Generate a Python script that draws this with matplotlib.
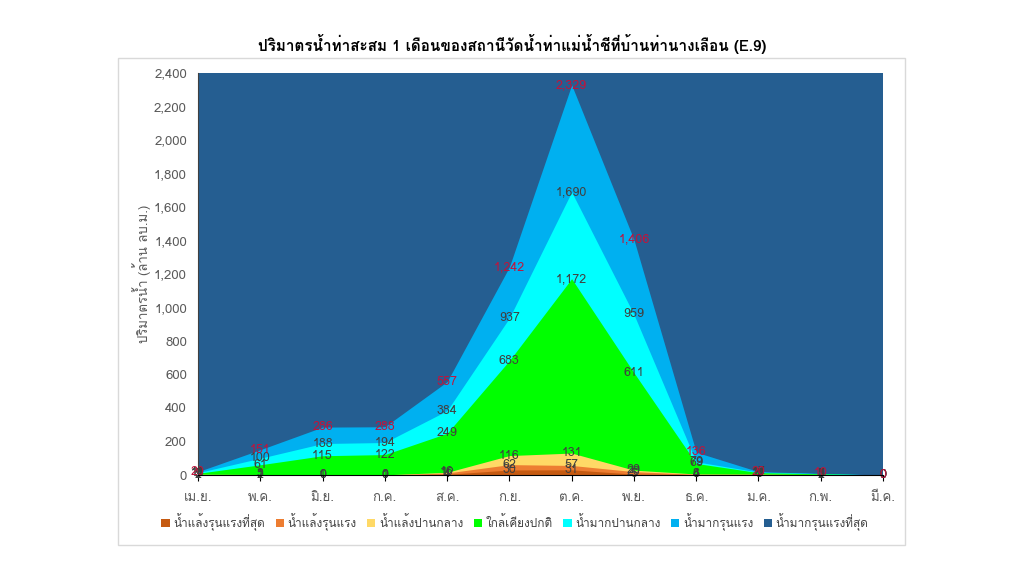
import matplotlib
matplotlib.use("Agg")
import matplotlib.pyplot as plt
from matplotlib import font_manager
from matplotlib.ft2font import FT2Font
from matplotlib.patches import Rectangle
from matplotlib.ticker import FuncFormatter
import numpy as np

months = ["เม.ย.", "พ.ค.", "มิ.ย.", "ก.ค.", "ส.ค.", "ก.ย.", "ต.ค.", "พ.ย.", "ธ.ค.", "ม.ค.", "ก.พ.", "มี.ค."]
series_names = ["น้ำแล้งรุนแรงที่สุด", "น้ำแล้งรุนแรง", "น้ำแล้งปานกลาง", "ใกล้เคียงปกติ",
                "น้ำมากปานกลาง", "น้ำมากรุนแรง", "น้ำมากรุนแรงที่สุด"]
dry_extreme = [2, 1, 0, 0, 4, 30, 31, 5, 3, 3, 1, 0]
dry_severe = [3, 2, 0, 0, 12, 62, 57, 20, 4, 4, 2, 0]
dry_moderate = [5, 3, 1, 1, 16, 116, 131, 29, 6, 5, 3, 0]
near_normal = [10, 61, 115, 122, 249, 683, 1172, 611, 69, 14, 7, 0]
wet_moderate = [14, 100, 188, 194, 384, 937, 1690, 959, 79, 17, 8, 0]
wet_severe = [20, 151, 286, 288, 557, 1242, 2329, 1406, 136, 20, 10, 0]
wet_extreme = [2400, 2400, 2400, 2400, 2400, 2400, 2400, 2400, 2400, 2400, 2400, 2400]
title = "ปริมาตรน้ำท่าสะสม 1 เดือนของสถานีวัดน้ำท่าแม่น้ำชีที่บ้านท่านางเลือน (E.9)"
ylabel = "ปริมาตรน้ำ (ล้าน ลบ.ม.)"

colors = ["#C55A11", "#ED7D31", "#FFD966", "#00FF00", "#00FFFF", "#00B0F0", "#255E91"]

# find a font with Thai glyphs
thai_font = None
for fe in font_manager.fontManager.ttflist:
    try:
        cm = FT2Font(fe.fname).get_charmap()
        if 0x0E19 in cm and 0x0E49 in cm:
            thai_font = fe.name
            break
    except Exception:
        continue
fams = ([thai_font] if thai_font else []) + ["DejaVu Sans"]
plt.rcParams["font.family"] = fams

fig = plt.figure(figsize=(10.24, 5.76), dpi=100)
fig.patches.append(Rectangle((118 / 1024, 1 - 545 / 576), (905 - 118) / 1024, (545 - 58) / 576,
                             transform=fig.transFigure, fill=False, edgecolor="#D9D9D9", lw=1))
ax = fig.add_axes([198 / 1024, 1 - 475 / 576, (883 - 198) / 1024, (475 - 73) / 576])

x = np.arange(len(months))
all_series = [dry_extreme, dry_severe, dry_moderate, near_normal, wet_moderate, wet_severe, wet_extreme]
for i in range(len(all_series) - 1, -1, -1):
    ax.fill_between(x, 0, all_series[i], color=colors[i], lw=0, label=series_names[i], zorder=2 + (6 - i))

for i, s in enumerate(all_series[:-1]):
    c = "#C0143C" if i == 5 else "#404040"
    for xi, v in zip(x, s):
        ax.text(xi, v, f"{v:,}", ha="center", va="center", fontsize=9, color=c, zorder=20)

ax.set_xlim(0, 11)
ax.set_ylim(0, 2400)
ax.set_yticks(np.arange(0, 2401, 200))
ax.yaxis.set_major_formatter(FuncFormatter(lambda v, p: f"{int(v):,}"))
ax.set_xticks(x)
ax.set_xticklabels(months)
ax.tick_params(axis="y", length=0, labelsize=9.5, colors="#595959", pad=8)
ax.tick_params(axis="x", length=4, direction="out", labelsize=9.5, labelcolor="#595959", pad=8)
for side in ["top", "right"]:
    ax.spines[side].set_visible(False)
ax.spines["left"].set_color("#404040")
ax.spines["bottom"].set_color("#000000")
ax.spines["left"].set_zorder(30)
ax.spines["bottom"].set_zorder(30)
ax.set_ylabel(ylabel, fontsize=9.5, color="#595959", labelpad=2)

fig.text(0.5, 1 - 44 / 576, title, ha="center", va="center", fontsize=11, fontweight="bold", color="#000000")

handles, labels = ax.get_legend_handles_labels()
order = list(range(len(handles)))[::-1]
leg = fig.legend([handles[k] for k in order], [labels[k] for k in order], loc="center",
                 bbox_to_anchor=(515 / 1024, 1 - 522 / 576), ncol=7, frameon=False, fontsize=8.5,
                 handlelength=0.7, handleheight=0.7, handletextpad=0.3, columnspacing=0.9)
for t in leg.get_texts():
    t.set_color("#404040")

fig.savefig("out.png", dpi=100)
